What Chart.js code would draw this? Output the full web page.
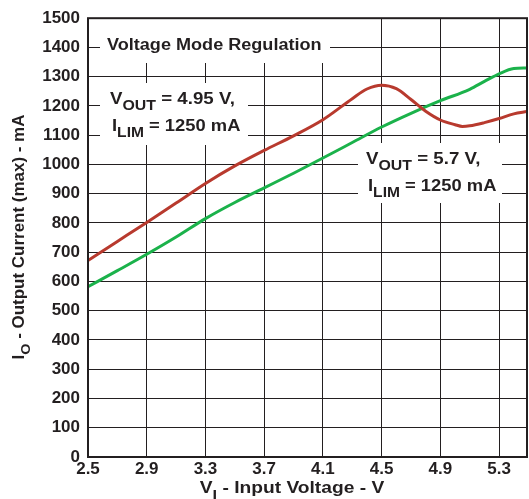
<!DOCTYPE html>
<html>
<head>
<meta charset="utf-8">
<script src="https://cdn.jsdelivr.net/npm/chart.js@4.4.1/dist/chart.umd.min.js"></script>
<style>
  html, body { margin: 0; padding: 0; background: #fff; }
  #wrap { width: 529px; height: 499px; }
</style>
</head>
<body>
<div id="wrap"><canvas id="chart" width="529" height="499"></canvas></div>
<script>
// data
const xTicks = [2.5, 2.9, 3.3, 3.7, 4.1, 4.5, 4.9, 5.3];
const yTicks = [0, 100, 200, 300, 400, 500, 600, 700, 800, 900, 1000, 1100, 1200, 1300, 1400, 1500];

const redX = [2.5, 2.7, 2.9, 3.1, 3.3, 3.5, 3.7, 3.9, 4.1, 4.3, 4.4, 4.5, 4.6, 4.7, 4.8, 4.9, 5.0, 5.05, 5.1, 5.2, 5.3, 5.4, 5.49];
const redY = [672, 737, 802, 868, 935, 995, 1048, 1098, 1153, 1225, 1258, 1271, 1259, 1222, 1182, 1152, 1136, 1130, 1132, 1143, 1157, 1173, 1181];

const greenX = [2.5, 2.7, 2.9, 3.1, 3.3, 3.5, 3.7, 3.9, 4.1, 4.3, 4.5, 4.7, 4.9, 5.1, 5.2, 5.3, 5.4, 5.49];
const greenY = [582, 637, 693, 752, 815, 870, 920, 970, 1022, 1075, 1128, 1175, 1218, 1257, 1284, 1310, 1328, 1330];

const FONT = '"Liberation Sans", Arial, sans-serif';

function toPoints(xs, ys) {
    return xs.map(function(x, i) { return { x: x, y: ys[i] }; });
}

function richWidth(ctx, parts, size) {
    let w = 0;
    parts.forEach(function(p) {
        ctx.font = 'bold ' + (p.sub ? size * 0.85 : size) + 'px ' + FONT;
        w += ctx.measureText(p.t).width;
    });
    return w;
}

// draw text made of normal and subscript parts, stretched sideways by sx
function drawRich(ctx, parts, x, y, size, sx) {
    ctx.save();
    ctx.translate(x, y);
    ctx.scale(sx, 1);
    let cx = 0;
    parts.forEach(function(p) {
        const s = p.sub ? size * 0.85 : size;
        ctx.font = 'bold ' + s + 'px ' + FONT;
        ctx.fillText(p.t, cx, p.sub ? size * 0.38 : 0);
        cx += ctx.measureText(p.t).width;
    });
    ctx.restore();
}

const notes = {
    id: 'notes',
    beforeDatasetsDraw(chart) {
        const ctx = chart.ctx;
        ctx.save();
        ctx.fillStyle = '#fff';
        ctx.fillRect(100, 17, 230, 46);
        ctx.fillRect(100, 83, 148, 62);
        ctx.fillRect(358, 143, 144, 60);
        ctx.restore();
    },
    afterDraw(chart) {
        const ctx = chart.ctx;
        const a = chart.chartArea;
        ctx.save();
        ctx.fillStyle = '#231f20';
        ctx.textBaseline = 'alphabetic';
        ctx.textAlign = 'left';

        drawRich(ctx, [{ t: 'Voltage Mode Regulation' }], 107, 50, 16, 1.13);

        drawRich(ctx, [{ t: 'V' }, { t: 'OUT', sub: true }, { t: ' = 4.95 V,' }], 110, 104, 17, 1.1);
        drawRich(ctx, [{ t: 'I' }, { t: 'LIM', sub: true }, { t: ' = 1250 mA' }], 112, 131, 17, 1.08);

        drawRich(ctx, [{ t: 'V' }, { t: 'OUT', sub: true }, { t: ' = 5.7 V,' }], 366, 164, 17, 1.1);
        drawRich(ctx, [{ t: 'I' }, { t: 'LIM', sub: true }, { t: ' = 1250 mA' }], 368, 191, 17, 1.08);

        // plot frame
        ctx.strokeStyle = '#231f20';
        ctx.lineWidth = 2;
        ctx.strokeRect(a.left, a.top, a.right - a.left, a.bottom - a.top);

        // x title
        const xt = [{ t: 'V' }, { t: 'I', sub: true }, { t: ' - Input Voltage - V' }];
        const xsx = 1.2;
        const xw = richWidth(ctx, xt, 16) * xsx;
        drawRich(ctx, xt, 292 - xw / 2, 493, 16, xsx);

        // y title
        const yt = [{ t: 'I' }, { t: 'O', sub: true }, { t: ' - Output Current (max) - mA' }];
        const ysx = 1.06;
        const yw = richWidth(ctx, yt, 16) * ysx;
        ctx.translate(24, 237);
        ctx.rotate(-Math.PI / 2);
        drawRich(ctx, yt, -yw / 2, 0, 16, ysx);
        ctx.restore();
    }
};

new Chart(document.getElementById('chart'), {
    type: 'line',
    data: {
        datasets: [{
            label: 'VOUT = 4.95 V',
            data: toPoints(redX, redY),
            borderColor: '#b83a2e',
            borderWidth: 3,
            pointRadius: 0,
            cubicInterpolationMode: 'monotone'
        }, {
            label: 'VOUT = 5.7 V',
            data: toPoints(greenX, greenY),
            borderColor: '#1bb24b',
            borderWidth: 3,
            pointRadius: 0,
            cubicInterpolationMode: 'monotone'
        }]
    },
    options: {
        responsive: false,
        animation: false,
        layout: { padding: { top: 16, right: 2, left: 0, bottom: 0 } },
        plugins: {
            legend: { display: false },
            tooltip: { enabled: false }
        },
        scales: {
            x: {
                type: 'linear',
                min: 2.5,
                max: 5.49,
                afterBuildTicks: function(scale) {
                    scale.ticks = xTicks.map(function(v) { return { value: v }; });
                },
                afterFit: function(scale) { scale.height = 42; },
                grid: { color: '#231f20', lineWidth: 1, drawTicks: false },
                border: { display: false },
                ticks: {
                    padding: 2,
                    color: '#231f20',
                    font: { family: FONT, weight: 'bold', size: 17 },
                    maxRotation: 0,
                    callback: function(v) { return v.toFixed(1); }
                }
            },
            y: {
                min: 0,
                max: 1500,
                afterBuildTicks: function(scale) {
                    scale.ticks = yTicks.map(function(v) { return { value: v }; });
                },
                afterFit: function(scale) { scale.width = 88; },
                grid: { color: '#231f20', lineWidth: 1, drawTicks: false },
                border: { display: false },
                ticks: {
                    padding: 8,
                    color: '#231f20',
                    font: { family: FONT, weight: 'bold', size: 17 },
                    callback: function(v) { return String(v); }
                }
            }
        }
    },
    plugins: [notes]
});
</script>
</body>
</html>
